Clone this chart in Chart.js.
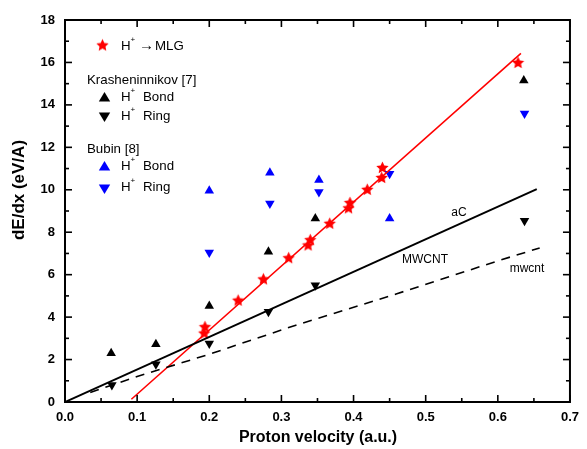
<!DOCTYPE html>
<html>
<head>
<meta charset="utf-8">
<script src="https://cdn.jsdelivr.net/npm/chart.js@4.4.1/dist/chart.umd.min.js"></script>
<style>
  html, body { margin: 0; padding: 0; background: #fff; }
</style>
</head>
<body>
<canvas id="myChart" width="587" height="449"></canvas>
<script>
// H+ -> MLG (red stars)
const mlgX = [0.193, 0.194, 0.240, 0.275, 0.310, 0.337, 0.340, 0.367, 0.393, 0.395, 0.419, 0.439, 0.440, 0.628];
const mlgY = [3.25, 3.55, 4.80, 5.80, 6.80, 7.40, 7.65, 8.42, 9.15, 9.40, 10.02, 10.58, 11.05, 16.0];

// linear fit through MLG
const fitX = [0.092, 0.632];
const fitY = [0.13, 16.43];

// Krasheninnikov [7]
const kBondX = [0.064, 0.126, 0.200, 0.282, 0.347, 0.636];
const kBondY = [2.30, 2.72, 4.52, 7.08, 8.65, 15.15];
const kRingX = [0.065, 0.126, 0.200, 0.282, 0.347, 0.637];
const kRingY = [0.80, 1.78, 2.76, 4.25, 5.50, 8.54];

// Bubin [8]
const bBondX = [0.200, 0.284, 0.352, 0.450];
const bBondY = [9.95, 10.80, 10.46, 8.65];
const bRingX = [0.200, 0.284, 0.352, 0.450, 0.637];
const bRingY = [7.05, 9.35, 9.90, 10.75, 13.60];

// aC / MWCNT (solid) and mwcnt (dashed)
const acX = [0.0, 0.654];
const acY = [0.0, 10.03];
const mwX = [0.035, 0.1, 0.2, 0.32, 0.46, 0.6, 0.658];
const mwY = [0.45, 1.20, 2.25, 3.62, 5.10, 6.65, 7.26];

// axes
const xTicks = [0.0, 0.1, 0.2, 0.3, 0.4, 0.5, 0.6, 0.7];
const yTicks = [0, 2, 4, 6, 8, 10, 12, 14, 16, 18];

const FONT = 'Arial, "Liberation Sans", sans-serif';

function pts(xs, ys) {
  return xs.map((x, i) => ({ x: x, y: ys[i] }));
}

function starPath(g, cx, cy, r) {
  g.beginPath();
  for (let i = 0; i < 10; i++) {
    const rr = i % 2 ? r * 0.48 : r;
    const a = -Math.PI / 2 + i * Math.PI / 5;
    g.lineTo(cx + rr * Math.cos(a), cy + rr * Math.sin(a));
  }
  g.closePath();
}

function starCanvas(r, color) {
  const c = document.createElement('canvas');
  const s = Math.ceil(r * 2 + 2);
  c.width = s; c.height = s;
  const g = c.getContext('2d');
  starPath(g, s / 2, s / 2 + 0.5, r);
  g.fillStyle = color;
  g.fill();
  return c;
}

function triPath(g, cx, cy, r, down) {
  const d = down ? -1 : 1;
  g.beginPath();
  g.moveTo(cx, cy - d * r);
  g.lineTo(cx + r * 0.95, cy + d * r * 0.6);
  g.lineTo(cx - r * 0.95, cy + d * r * 0.6);
  g.closePath();
}

const starImg = starCanvas(6.5, '#ff0000');

function drawTick(ctx, x1, y1, x2, y2) {
  ctx.beginPath();
  ctx.moveTo(x1, y1);
  ctx.lineTo(x2, y2);
  ctx.stroke();
}

const TICK_MAJ = 7, TICK_MIN = 4;

// frame, inward ticks, legend, labels
const decorPlugin = {
  id: 'decor',
  afterDraw(chart) {
    const ctx = chart.ctx;
    const a = chart.chartArea;
    const xs = chart.scales.x, ys = chart.scales.y;
    ctx.save();
    ctx.setLineDash([]);
    ctx.strokeStyle = '#000';
    ctx.lineWidth = 2;
    ctx.strokeRect(a.left, a.top, a.right - a.left, a.bottom - a.top);

    // inward tick marks on all four sides
    ctx.lineWidth = 1.6;
    for (let i = 0; i < xTicks.length; i++) {
      const px = xs.getPixelForValue(xTicks[i]);
      drawTick(ctx, px, a.bottom, px, a.bottom - TICK_MAJ);
      drawTick(ctx, px, a.top, px, a.top + TICK_MAJ);
      if (i < xTicks.length - 1) {
        const pm = xs.getPixelForValue((xTicks[i] + xTicks[i + 1]) / 2);
        drawTick(ctx, pm, a.bottom, pm, a.bottom - TICK_MIN);
        drawTick(ctx, pm, a.top, pm, a.top + TICK_MIN);
      }
    }
    for (let i = 0; i < yTicks.length; i++) {
      const py = ys.getPixelForValue(yTicks[i]);
      drawTick(ctx, a.left, py, a.left + TICK_MAJ, py);
      drawTick(ctx, a.right, py, a.right - TICK_MAJ, py);
      if (i < yTicks.length - 1) {
        const pm = ys.getPixelForValue((yTicks[i] + yTicks[i + 1]) / 2);
        drawTick(ctx, a.left, pm, a.left + TICK_MIN, pm);
        drawTick(ctx, a.right, pm, a.right - TICK_MIN, pm);
      }
    }

    // legend
    const LF = '13.3px ' + FONT;
    ctx.fillStyle = '#000';
    ctx.textBaseline = 'middle';
    ctx.textAlign = 'left';
    const hPlus = (x, y) => {
      ctx.font = LF;
      ctx.fillText('H', x, y);
      const w = ctx.measureText('H').width;
      ctx.font = '8px ' + FONT;
      ctx.fillText('+', x + w, y - 6);
      ctx.font = LF;
    };
    ctx.drawImage(starImg, 102.5 - starImg.width / 2, 45 - starImg.height / 2);
    hPlus(121, 46);
    ctx.font = '15px ' + FONT;
    ctx.fillText('\u2192', 139, 46);
    ctx.font = LF;
    ctx.fillText('MLG', 155, 46);

    ctx.fillText('Krasheninnikov [7]', 87, 80);
    ctx.fillStyle = '#000';
    triPath(ctx, 104.5, 98, 6, false); ctx.fill();
    triPath(ctx, 104.5, 116, 6, true); ctx.fill();
    hPlus(121, 97); ctx.fillText('Bond', 143, 97);
    hPlus(121, 116); ctx.fillText('Ring', 143, 116);

    ctx.fillText('Bubin [8]', 87, 149);
    ctx.fillStyle = '#0000ff';
    triPath(ctx, 104.5, 167, 6, false); ctx.fill();
    triPath(ctx, 104.5, 188, 6, true); ctx.fill();
    ctx.fillStyle = '#000';
    hPlus(121, 166); ctx.fillText('Bond', 143, 166);
    hPlus(121, 187); ctx.fillText('Ring', 143, 187);

    // curve labels
    ctx.font = '12px ' + FONT;
    ctx.textAlign = 'center';
    ctx.fillText('aC', 459, 213);
    ctx.fillText('MWCNT', 425, 260);
    ctx.fillText('mwcnt', 527, 269);

    // axis titles
    ctx.font = 'bold 16px ' + FONT;
    ctx.fillText('Proton velocity (a.u.)', 318, 438);
    ctx.save();
    ctx.font = 'bold 17px ' + FONT;
    ctx.translate(19, 190);
    ctx.rotate(-Math.PI / 2);
    ctx.fillText('dE/dx (eV/A)', 0, 0);
    ctx.restore();
    ctx.restore();
  }
};

const markerBase = { showLine: false, pointBorderWidth: 0 };

new Chart(document.getElementById('myChart'), {
  type: 'scatter',
  data: {
    datasets: [
      { data: pts(acX, acY), showLine: true, borderColor: '#000', borderWidth: 2, pointRadius: 0 },
      { data: pts(mwX, mwY), showLine: true, borderColor: '#000', borderWidth: 1.6, borderDash: [9, 7], pointRadius: 0 },
      { data: pts(fitX, fitY), showLine: true, borderColor: '#ff0000', borderWidth: 1.6, pointRadius: 0 },
      Object.assign({ data: pts(kBondX, kBondY), pointStyle: 'triangle', pointRadius: 5.5, backgroundColor: '#000', borderColor: '#000' }, markerBase),
      Object.assign({ data: pts(kRingX, kRingY), pointStyle: 'triangle', rotation: 180, pointRadius: 5.5, backgroundColor: '#000', borderColor: '#000' }, markerBase),
      Object.assign({ data: pts(bBondX, bBondY), pointStyle: 'triangle', pointRadius: 5.5, backgroundColor: '#0000ff', borderColor: '#0000ff' }, markerBase),
      Object.assign({ data: pts(bRingX, bRingY), pointStyle: 'triangle', rotation: 180, pointRadius: 5.5, backgroundColor: '#0000ff', borderColor: '#0000ff' }, markerBase),
      Object.assign({ data: pts(mlgX, mlgY), pointStyle: starImg, pointRadius: 7 }, markerBase)
    ]
  },
  options: {
    responsive: false,
    animation: false,
    devicePixelRatio: 1,
    layout: { padding: { top: 20, right: 10, left: 0, bottom: 0 } },
    plugins: { legend: { display: false }, tooltip: { enabled: false } },
    scales: {
      x: {
        type: 'linear', min: 0, max: 0.7,
        afterBuildTicks: (s) => { s.ticks = xTicks.map(v => ({ value: v })); },
        afterFit: (s) => { s.height = 47; },
        grid: { display: false, drawTicks: false },
        border: { display: false },
        ticks: {
          padding: 8, color: '#000', maxRotation: 0, autoSkip: false,
          font: { family: FONT, size: 13, weight: 'bold' },
          callback: (v) => Number(v).toFixed(1)
        }
      },
      y: {
        type: 'linear', min: 0, max: 18,
        afterBuildTicks: (s) => { s.ticks = yTicks.map(v => ({ value: v })); },
        afterFit: (s) => { s.width = 65; },
        grid: { display: false, drawTicks: false },
        border: { display: false },
        ticks: {
          padding: 10, color: '#000', autoSkip: false,
          font: { family: FONT, size: 13, weight: 'bold' }
        }
      }
    }
  },
  plugins: [decorPlugin]
});
</script>
</body>
</html>
